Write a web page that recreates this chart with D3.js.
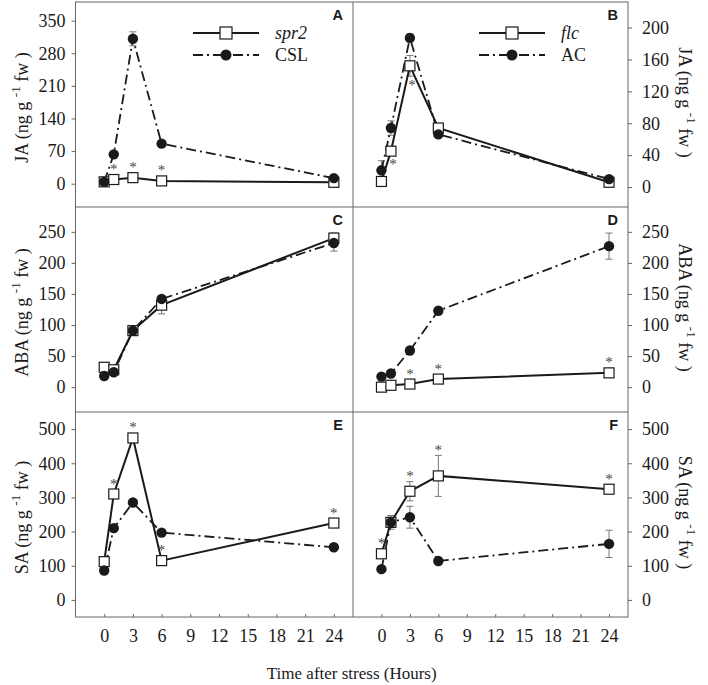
<!DOCTYPE html>
<html><head><meta charset="utf-8">
<script src="https://cdn.jsdelivr.net/npm/d3@7"></script>
<style>body{margin:0;background:#fff}svg{display:block}</style>
</head><body><svg id="c" width="708" height="685"></svg>
<script>
// ---- data ----
const times = [0, 1, 3, 6, 24];
const xTicks = [0, 3, 6, 9, 12, 15, 18, 21, 24];

const jaSpr2 = [4, 9, 13, 6, 3],      jaSpr2Err = [2, 3, 3, 2, 2];
const jaCSL  = [4, 63, 311, 86, 12],  jaCSLErr  = [3, 5, 15, 4, 3];
const jaFlc  = [7, 45, 152, 74, 6],   jaFlcErr  = [4, 5, 13, 4, 2];
const jaAC   = [21, 74, 187, 66, 10], jaACErr   = [12, 9, 5, 4, 3];

const abaSpr2 = [32, 28, 91, 132, 240], abaSpr2Err = [3, 3, 4, 14, 8];
const abaCSL  = [18, 24, 91, 142, 232], abaCSLErr  = [2, 3, 4, 4, 13];
const abaFlc  = [0, 3, 5, 13, 23],      abaFlcErr  = [1, 1, 1, 2, 2];
const abaAC   = [17, 22, 59, 123, 227], abaACErr   = [2, 2, 3, 3, 21];

const saSpr2 = [112, 310, 474, 115, 225], saSpr2Err = [8, 10, 10, 8, 8];
const saCSL  = [86, 210, 285, 197, 154],  saCSLErr  = [6, 8, 8, 6, 6];
const saFlc  = [135, 227, 318, 363, 324], saFlcErr  = [10, 20, 28, 60, 8];
const saAC   = [90, 227, 242, 114, 164],  saACErr   = [6, 15, 32, 6, 40];

// indices of time points marked significant (*)
const starA = [1, 2, 3], starB = [1, 2], starC = [], starD = [2, 3, 4], starE = [1, 2, 3, 4], starF = [0, 2, 3, 4];

const ticksJA_L = [0, 70, 140, 210, 280, 350];
const ticksJA_R = [0, 40, 80, 120, 160, 200];
const ticksABA = [0, 50, 100, 150, 200, 250];
const ticksSA = [0, 100, 200, 300, 400, 500];

const legendLeft = ["spr2", "CSL"], legendRight = ["flc", "AC"];

// ---- layout ----
const svg = d3.select("#c");
const X0 = 75.5, XM = 353, X1 = 628;
const rowTop = [2, 207, 412], rowH = 205;
const serif = "'Liberation Serif','DejaVu Serif',serif";
const ink = "#1a1a1a", frame = "#666";

const panels = [
  {id:"A", side:"L", row:0, dom:[-50,390], ticks:ticksJA_L, hormone:"JA", sq:jaSpr2, sqE:jaSpr2Err, ci:jaCSL, ciE:jaCSLErr, stars:starA, starBelow:false},
  {id:"B", side:"R", row:0, dom:[-25,232], ticks:ticksJA_R, hormone:"JA", sq:jaFlc, sqE:jaFlcErr, ci:jaAC, ciE:jaACErr, stars:starB, starBelow:true},
  {id:"C", side:"L", row:1, dom:[-40,290], ticks:ticksABA, hormone:"ABA", sq:abaSpr2, sqE:abaSpr2Err, ci:abaCSL, ciE:abaCSLErr, stars:starC, starBelow:false},
  {id:"D", side:"R", row:1, dom:[-40,290], ticks:ticksABA, hormone:"ABA", sq:abaFlc, sqE:abaFlcErr, ci:abaAC, ciE:abaACErr, stars:starD, starBelow:false},
  {id:"E", side:"L", row:2, dom:[-50,550], ticks:ticksSA, hormone:"SA", sq:saSpr2, sqE:saSpr2Err, ci:saCSL, ciE:saCSLErr, stars:starE, starBelow:false},
  {id:"F", side:"R", row:2, dom:[-50,550], ticks:ticksSA, hormone:"SA", sq:saFlc, sqE:saFlcErr, ci:saAC, ciE:saACErr, stars:starF, starBelow:false}
];

const xL = d3.scaleLinear().domain([-3, 26]).range([X0, XM]);
const xR = d3.scaleLinear().domain([-3, 26]).range([XM, X1]);

panels.forEach(p => {
  const x = p.side === "L" ? xL : xR;
  const top = rowTop[p.row];
  const y = d3.scaleLinear().domain(p.dom).range([top + rowH, top]);
  const g = svg.append("g");

  // y axis
  const axis = p.side === "L" ? d3.axisLeft(y) : d3.axisRight(y);
  const ag = g.append("g")
    .attr("transform", `translate(${p.side === "L" ? X0 : X1},0)`)
    .call(axis.tickValues(p.ticks).tickSize(4).tickPadding(5).tickFormat(d3.format("d")));
  ag.select(".domain").remove();
  ag.selectAll(".tick line").attr("stroke", frame);
  ag.selectAll(".tick text").attr("font-family", serif).attr("font-size", 18).attr("fill", ink)
    .attr("dx", p.side === "L" ? -1 : 5);

  // y label
  const lx = p.side === "L" ? 22 : 685;
  const ly = top + rowH / 2 + (p.side === "L" ? 3 : -2);
  const lbl = g.append("text")
    .attr("transform", `translate(${lx},${ly}) rotate(${p.side === "L" ? -90 : 90})`)
    .attr("text-anchor", "middle").attr("dominant-baseline", "central")
    .attr("font-family", serif).attr("font-size", 18).attr("fill", ink);
  lbl.append("tspan").text(p.hormone + " (ng g ");
  lbl.append("tspan").attr("font-size", 13).attr("dy", -7).text("-1");
  lbl.append("tspan").attr("dy", 7).text(" fw )");

  // panel letter
  g.append("text").attr("x", (p.side === "L" ? XM : X1) - 10).attr("y", top + 17.5)
    .attr("text-anchor", "end").attr("font-family", "'Liberation Sans',Arial,sans-serif")
    .attr("font-weight", "bold").attr("font-size", 14.5).attr("fill", ink).text(p.id);

  // error bars
  const drawErr = (vals, errs) => {
    const eg = g.append("g").attr("stroke", "#777").attr("stroke-width", 1);
    times.forEach((t, i) => {
      const cx = x(t), y1 = y(vals[i] + errs[i]), y2 = y(vals[i] - errs[i]);
      eg.append("line").attr("x1", cx).attr("x2", cx).attr("y1", y1).attr("y2", y2);
      eg.append("line").attr("x1", cx - 3.5).attr("x2", cx + 3.5).attr("y1", y1).attr("y2", y1);
      eg.append("line").attr("x1", cx - 3.5).attr("x2", cx + 3.5).attr("y1", y2).attr("y2", y2);
    });
  };
  drawErr(p.sq, p.sqE);
  drawErr(p.ci, p.ciE);

  const line = d3.line().x((d, i) => x(times[i])).y(d => y(d));
  g.append("path").datum(p.sq).attr("d", line).attr("fill", "none")
    .attr("stroke", ink).attr("stroke-width", 2);
  g.append("path").datum(p.ci).attr("d", line).attr("fill", "none")
    .attr("stroke", ink).attr("stroke-width", 1.8).attr("stroke-dasharray", "10,4,2,4");

  g.selectAll(".sq").data(p.sq).enter().append("rect")
    .attr("x", (d, i) => x(times[i]) - 5).attr("y", d => y(d) - 5)
    .attr("width", 10).attr("height", 10)
    .attr("fill", "#fff").attr("stroke", ink).attr("stroke-width", 1.2);
  g.selectAll(".ci").data(p.ci).enter().append("circle")
    .attr("cx", (d, i) => x(times[i])).attr("cy", d => y(d)).attr("r", 5.2).attr("fill", ink);

  // significance stars
  p.stars.forEach(i => {
    const v = p.sq[i], e = p.sqE[i];
    let cy, cx = x(times[i]);
    if (p.starBelow) { cy = Math.max(y(v) + 11, y(v - e) + 7); cx += 2; }
    else { cy = Math.min(y(v) - 12, y(v + e) - 7); }
    g.append("text").attr("x", cx).attr("y", cy + 6.5).attr("text-anchor", "middle")
      .attr("font-family", serif).attr("font-size", 15).attr("fill", "#444")
      .attr("opacity", 0.99).text("*");
  });
});

// frame lines
const fr = svg.append("g").attr("stroke", frame).attr("stroke-width", 1).attr("fill", "none");
fr.append("rect").attr("x", X0).attr("y", rowTop[0]).attr("width", X1 - X0).attr("height", 3 * rowH);
fr.append("line").attr("x1", XM).attr("x2", XM).attr("y1", rowTop[0]).attr("y2", rowTop[2] + rowH);
[1, 2].forEach(r => fr.append("line").attr("x1", X0).attr("x2", X1).attr("y1", rowTop[r]).attr("y2", rowTop[r]));

// bottom x axes (inward ticks)
const bottom = rowTop[2] + rowH;
[xL, xR].forEach(x => {
  const ax = svg.append("g").attr("transform", `translate(0,${bottom})`)
    .call(d3.axisBottom(x).tickValues(xTicks).tickSize(0).tickPadding(12).tickFormat(d3.format("d")));
  ax.select(".domain").remove();
  ax.selectAll(".tick text").attr("font-family", serif).attr("font-size", 18).attr("fill", ink);
  ax.selectAll(".tick").append("line").attr("y1", 0).attr("y2", -3).attr("stroke", frame);
});
svg.append("text").attr("x", (X0 + X1) / 2).attr("y", 679).attr("text-anchor", "middle")
  .attr("font-family", serif).attr("font-size", 17).attr("fill", ink).text("Time after stress (Hours)");

// legends
function legend(x0, names) {
  const ys = [33, 55];
  const lg = svg.append("g");
  lg.append("line").attr("x1", x0).attr("x2", x0 + 66).attr("y1", ys[0]).attr("y2", ys[0]).attr("stroke", ink).attr("stroke-width", 2);
  lg.append("rect").attr("x", x0 + 33 - 6).attr("y", ys[0] - 6).attr("width", 12).attr("height", 12).attr("fill", "#fff").attr("stroke", ink).attr("stroke-width", 1.2);
  lg.append("line").attr("x1", x0).attr("x2", x0 + 66).attr("y1", ys[1]).attr("y2", ys[1]).attr("stroke", ink).attr("stroke-width", 1.8).attr("stroke-dasharray", "10,4,2,4");
  lg.append("circle").attr("cx", x0 + 33).attr("cy", ys[1]).attr("r", 5.5).attr("fill", ink);
  names.forEach((n, i) => lg.append("text").attr("x", x0 + 82).attr("y", ys[i] + 6)
    .attr("font-family", serif).attr("font-size", 18).attr("fill", ink)
    .attr("font-style", i === 0 ? "italic" : "normal").text(n));
}
legend(193, legendLeft);
legend(479, legendRight);
</script></body></html>
